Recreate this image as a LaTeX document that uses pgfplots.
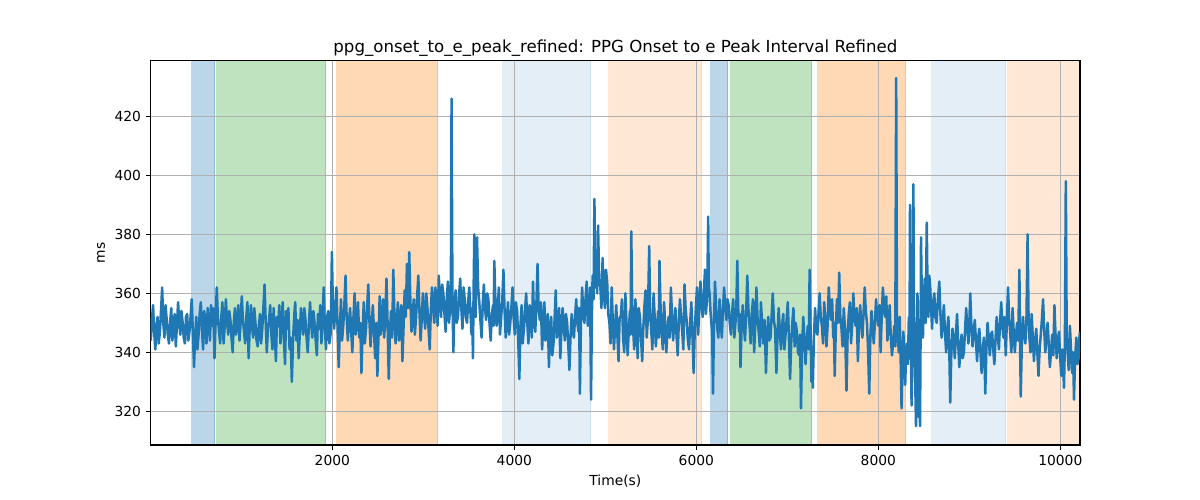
\documentclass[border=0pt]{standalone}
\usepackage{fontspec}
\setmainfont{DejaVu Sans}
\usepackage{pgfplots}
\usepackage{pgfplotstable}
\pgfplotsset{compat=1.18}
\definecolor{tabblue}{HTML}{1F77B4}
\definecolor{taborange}{HTML}{FF7F0E}
\definecolor{tabgreen}{HTML}{2CA02C}
\definecolor{gridgray}{HTML}{B0B0B0}
\pgfplotstableread{
x y
5 344
17 351
30 356
42 347
55 341
67 349
80 352
92 343
105 347
117 354
130 362
142 350
155 345
167 356
180 351
192 346
205 343
217 350
230 355
242 344
255 348
267 353
280 342
292 349
305 357
317 350
330 346
342 354
355 350
367 345
380 343
392 352
405 353
417 344
430 347
442 352
455 358
467 347
480 335
492 345
505 352
517 341
530 346
542 353
555 357
567 348
580 341
592 354
605 350
617 343
630 355
642 350
655 344
667 356
680 349
692 355
705 338
717 350
730 362
742 352
755 347
767 343
780 352
792 357
805 343
817 349
830 358
842 351
855 346
867 354
880 351
892 345
905 340
917 350
930 355
942 346
955 349
967 356
980 344
992 350
1005 359
1017 351
1030 347
1042 343
1055 352
1067 357
1080 338
1092 348
1105 356
1117 349
1130 345
1142 355
1155 350
1167 344
1180 342
1192 349
1205 353
1217 343
1230 348
1242 355
1255 363
1267 351
1280 340
1292 348
1305 351
1317 356
1330 346
1342 341
1355 355
1367 347
1380 337
1392 352
1405 349
1417 356
1430 343
1442 350
1455 357
1467 345
1480 336
1492 354
1505 348
1517 355
1530 341
1542 345
1555 330
1567 343
1580 352
1592 357
1605 344
1617 351
1630 338
1642 346
1655 355
1667 350
1680 346
1692 355
1705 351
1717 345
1730 340
1742 349
1755 357
1767 350
1780 345
1792 354
1805 350
1817 344
1830 339
1842 353
1855 348
1867 356
1880 343
1892 350
1905 362
1917 349
1930 341
1942 352
1955 354
1967 343
1980 346
1988 358
1995 374
2008 352
2020 348
2032 355
2045 362
2057 349
2070 335
2082 347
2095 358
2107 344
2120 349
2132 356
2145 366
2157 352
2170 344
2182 350
2195 355
2207 347
2220 340
2232 352
2245 360
2257 346
2270 351
2282 357
2295 345
2307 350
2320 333
2332 346
2345 357
2357 343
2370 348
2382 355
2395 363
2407 351
2420 342
2432 349
2445 356
2457 348
2470 338
2482 350
2495 332
2507 345
2520 359
2532 346
2545 350
2557 358
2570 345
2582 352
2595 365
2607 350
2620 331
2632 346
2645 354
2657 345
2670 368
2682 353
2695 343
2707 350
2720 357
2732 344
2745 349
2757 356
2770 337
2782 348
2795 361
2807 352
2820 370
2832 355
2845 374
2857 358
2870 347
2882 353
2895 358
2907 346
2920 352
2932 359
2945 366
2957 354
2970 344
2982 351
2995 360
3007 353
3020 348
3032 360
3045 355
3057 348
3070 341
3082 354
3095 362
3107 355
3120 350
3132 362
3145 357
3157 349
3170 366
3182 357
3195 352
3207 363
3220 360
3232 353
3245 347
3257 358
3270 364
3282 350
3295 355
3303 365
3310 426
3320 358
3330 340
3342 356
3355 361
3367 350
3380 352
3392 359
3405 365
3417 355
3430 348
3442 362
3455 358
3467 352
3480 350
3492 357
3505 362
3517 354
3530 346
3537 355
3545 338
3552 360
3560 380
3567 361
3575 352
3582 366
3590 379
3602 362
3615 357
3627 351
3640 345
3652 356
3665 363
3677 355
3690 351
3702 360
3715 358
3727 350
3740 344
3752 352
3765 356
3772 349
3780 371
3792 357
3805 349
3817 355
3830 362
3842 346
3855 352
3867 357
3880 368
3892 355
3905 345
3917 351
3930 357
3942 346
3955 350
3967 355
3980 362
3992 352
4005 346
4017 357
4030 354
4042 345
4055 331
4067 349
4080 356
4092 343
4105 348
4117 354
4130 360
4142 350
4155 343
4167 356
4180 352
4192 345
4205 364
4217 351
4230 347
4242 356
4255 370
4267 355
4280 351
4292 357
4305 341
4317 349
4330 357
4342 344
4355 346
4367 353
4380 335
4392 348
4405 352
4417 339
4430 343
4442 351
4455 361
4467 345
4480 348
4492 355
4505 338
4517 347
4530 355
4542 349
4555 344
4567 353
4580 350
4592 343
4605 334
4617 345
4630 353
4642 347
4655 345
4667 352
4680 358
4692 350
4705 347
4712 355
4720 326
4732 350
4745 362
4757 353
4770 350
4782 358
4795 364
4807 349
4820 355
4832 362
4843 324
4852 352
4860 366
4870 358
4880 392
4890 362
4900 370
4910 360
4920 383
4932 365
4945 362
4957 355
4970 372
4982 361
4995 355
5007 368
5020 364
5032 353
5045 350
5057 343
5070 362
5082 350
5095 341
5107 349
5120 356
5132 346
5145 337
5157 352
5170 352
5182 358
5195 345
5207 340
5220 360
5232 350
5245 339
5257 347
5270 354
5277 346
5285 381
5295 356
5305 348
5317 341
5330 358
5342 350
5355 338
5367 355
5380 352
5392 345
5405 337
5417 348
5430 356
5442 361
5455 345
5467 351
5482 376
5492 354
5505 347
5517 341
5530 360
5542 352
5555 342
5567 348
5580 354
5587 345
5595 371
5607 355
5620 346
5632 341
5645 357
5657 350
5670 340
5682 347
5695 352
5707 345
5720 362
5732 353
5745 344
5757 350
5770 355
5782 346
5795 339
5807 350
5820 358
5832 352
5845 347
5857 341
5870 363
5882 355
5895 350
5907 344
5920 341
5932 350
5945 357
5957 346
5970 333
5982 347
5995 355
6007 362
6020 346
6032 355
6045 364
6057 356
6070 352
6082 360
6095 368
6105 353
6115 357
6122 365
6130 386
6137 362
6145 360
6155 354
6165 350
6174 347
6183 326
6194 350
6205 364
6217 355
6230 348
6242 345
6255 358
6267 351
6280 345
6292 354
6305 362
6317 356
6330 351
6342 358
6355 356
6367 350
6380 346
6392 353
6405 358
6417 345
6430 350
6440 356
6450 371
6460 355
6470 347
6477 353
6485 335
6497 348
6510 356
6522 349
6535 344
6547 353
6560 366
6572 355
6585 349
6597 343
6610 353
6622 358
6635 340
6647 349
6660 362
6672 352
6685 347
6697 342
6710 357
6722 350
6735 343
6750 351
6765 333
6777 345
6790 352
6802 344
6815 345
6827 352
6840 360
6852 351
6865 348
6872 341
6880 333
6892 346
6905 355
6917 347
6930 341
6942 349
6955 353
6967 341
6980 346
6992 351
7005 357
7017 345
7030 331
7042 343
7055 350
7067 355
7080 342
7092 350
7105 347
7117 340
7130 339
7140 346
7150 321
7162 342
7175 352
7187 344
7200 336
7212 344
7225 349
7235 341
7245 368
7255 348
7265 330
7272 341
7280 328
7292 345
7305 355
7317 348
7330 346
7342 353
7355 360
7367 352
7380 349
7392 343
7405 357
7417 351
7430 342
7442 349
7455 362
7467 355
7480 351
7492 358
7505 345
7512 350
7520 332
7532 347
7545 358
7557 350
7570 367
7582 352
7595 348
7607 342
7620 355
7635 347
7650 327
7662 346
7675 353
7687 357
7700 343
7712 349
7725 360
7737 352
7750 349
7762 355
7775 337
7787 348
7800 356
7812 350
7825 345
7837 353
7850 362
7862 354
7875 350
7887 341
7900 326
7912 345
7925 354
7937 348
7950 343
7962 350
7975 358
7987 352
8000 349
8012 356
8025 340
8037 352
8050 362
8062 355
8075 352
8087 359
8100 344
8112 350
8125 356
8137 345
8150 339
8162 343
8175 349
8186 342
8196 433
8205 350
8215 345
8225 340
8235 352
8245 338
8255 321
8265 336
8275 347
8285 338
8295 329
8305 340
8315 343
8325 336
8335 352
8342 338
8348 390
8357 345
8365 322
8375 342
8385 397
8392 355
8400 340
8407 327
8414 315
8422 335
8430 360
8437 340
8445 318
8452 335
8458 315
8464 345
8469 379
8480 352
8490 345
8500 358
8510 365
8520 350
8532 384
8541 360
8550 352
8560 366
8570 362
8580 355
8590 348
8602 357
8615 360
8627 352
8640 350
8655 358
8670 364
8682 353
8695 345
8707 350
8720 356
8732 347
8745 340
8757 348
8770 352
8780 340
8790 323
8802 340
8815 348
8827 344
8840 338
8852 346
8865 353
8877 343
8890 335
8902 342
8915 346
8927 338
8940 340
8952 347
8965 355
8977 349
8990 343
9000 350
9010 360
9022 349
9035 342
9047 347
9060 351
9072 344
9085 337
9097 345
9110 348
9122 340
9135 333
9147 341
9160 345
9167 338
9175 326
9187 341
9200 350
9212 345
9225 339
9237 346
9250 347
9262 341
9275 336
9287 344
9300 352
9312 346
9325 341
9337 350
9350 357
9362 349
9375 345
9387 352
9400 339
9412 350
9425 362
9437 352
9450 346
9462 340
9475 355
9487 347
9500 340
9512 346
9525 350
9537 344
9550 368
9557 343
9565 325
9577 344
9590 352
9602 346
9615 343
9627 350
9640 380
9650 354
9660 345
9672 340
9685 353
9697 345
9710 337
9722 344
9735 348
9747 340
9760 332
9772 341
9785 346
9797 351
9810 358
9822 348
9835 340
9847 345
9860 350
9872 343
9885 335
9897 340
9910 346
9922 339
9935 356
9947 346
9960 338
9972 344
9985 347
9997 339
10010 332
10025 341
10040 328
10050 344
10060 398
10070 345
10080 340
10092 334
10105 349
10117 341
10130 333
10140 340
10150 324
10162 338
10175 345
10187 336
10200 338
10207 344
10215 347
}\series
\begin{document}
\begin{tikzpicture}
\begin{axis}[
  at={(0,0)}, anchor=south west,
  set layers,
  width=9.293in, height=3.843in, scale only axis,
  xmin=4, xmax=10216, ymin=308.6, ymax=438.85,
  xtick={2000,4000,6000,8000,10000},
  ytick={320,340,360,380,400,420},
  scaled x ticks=false,
  /pgf/number format/1000 sep={},
  /pgf/number format/assume math mode=true,
  grid=major,
  grid style={color=gridgray, line width=0.8pt},
  tick align=outside, xtick pos=bottom, ytick pos=left,
  major tick length=3.5pt,
  tick style={black, line width=0.8pt},
  axis line style={line width=0.8pt},
  ticklabel style={font=\fontsize{10}{12}\selectfont},
  label style={font=\fontsize{10}{12}\selectfont},
  title style={font=\fontsize{12}{14}\selectfont, anchor=south, inner sep=0pt, yshift=-3.3pt},
  title={ppg\_onset\_to\_e\_peak\_refined: PPG Onset to e Peak Interval Refined},
  xlabel={Time(s)}, ylabel={ms},
]
\addplot[on layer=axis background, fill=tabblue, fill opacity=0.3, draw=tabblue, draw opacity=0.3] coordinates {(447,308.6) (707,308.6) (707,438.85) (447,438.85)};
\addplot[on layer=axis background, fill=tabgreen, fill opacity=0.3, draw=tabgreen, draw opacity=0.3] coordinates {(722,308.6) (1927,308.6) (1927,438.85) (722,438.85)};
\addplot[on layer=axis background, fill=taborange, fill opacity=0.3, draw=taborange, draw opacity=0.3] coordinates {(2044,308.6) (3158,308.6) (3158,438.85) (2044,438.85)};
\addplot[on layer=axis background, fill=tabblue, fill opacity=0.12, draw=tabblue, draw opacity=0.12] coordinates {(3864,308.6) (4839,308.6) (4839,438.85) (3864,438.85)};
\addplot[on layer=axis background, fill=taborange, fill opacity=0.17, draw=taborange, draw opacity=0.17] coordinates {(5030,308.6) (6059,308.6) (6059,438.85) (5030,438.85)};
\addplot[on layer=axis background, fill=tabblue, fill opacity=0.3, draw=tabblue, draw opacity=0.3] coordinates {(6150,308.6) (6345,308.6) (6345,438.85) (6150,438.85)};
\addplot[on layer=axis background, fill=tabgreen, fill opacity=0.3, draw=tabgreen, draw opacity=0.3] coordinates {(6370,308.6) (7268,308.6) (7268,438.85) (6370,438.85)};
\addplot[on layer=axis background, fill=taborange, fill opacity=0.3, draw=taborange, draw opacity=0.3] coordinates {(7328,308.6) (8301,308.6) (8301,438.85) (7328,438.85)};
\addplot[on layer=axis background, fill=tabblue, fill opacity=0.12, draw=tabblue, draw opacity=0.12] coordinates {(8577,308.6) (9400,308.6) (9400,438.85) (8577,438.85)};
\addplot[on layer=axis background, fill=taborange, fill opacity=0.17, draw=taborange, draw opacity=0.17] coordinates {(9414,308.6) (10216,308.6) (10216,438.85) (9414,438.85)};
\addplot[tabblue, line width=1.8pt, line join=round, mark=none] table[x=x, y=y] {\series};
\end{axis}
\path (-1.507in,-0.55in) rectangle (10.493in,4.45in);
\end{tikzpicture}
\end{document}
